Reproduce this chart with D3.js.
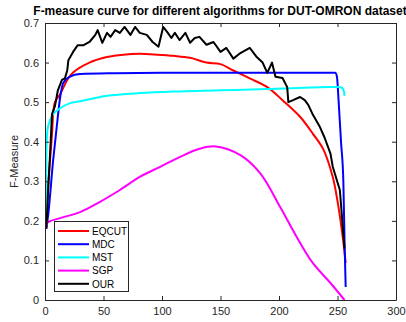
<!DOCTYPE html>
<html><head><meta charset="utf-8">
<script src="https://cdn.jsdelivr.net/npm/d3@7"></script>
<style>body{margin:0;background:#fff}text{font-family:"Liberation Sans",Arial,sans-serif}</style>
</head><body><svg id="c" width="406" height="322"></svg>
<script>
const title = "F-measure curve for different algorithms for DUT-OMRON dataset";
const yLabel = "F-Measure";
const xTicks = [0,50,100,150,200,250,300];
const yTicks = [0,0.1,0.2,0.3,0.4,0.5,0.6,0.7];
const seriesNames = ["EQCUT","MDC","MST","SGP","OUR"];
const seriesColors = ["#ff0000","#0000ff","#00ffff","#ff00ff","#000000"];

const eqcutX = [1,3,5,6,8.5,13,19,24,38,53,67,81,96,110,124,138,150,161,175,190,203,218,229,238,246,250,254,257];
const eqcutY = [0.18,0.3,0.38,0.42,0.5,0.52,0.556,0.575,0.6,0.614,0.62,0.622,0.62,0.617,0.612,0.60,0.596,0.58,0.56,0.538,0.505,0.463,0.42,0.38,0.31,0.25,0.17,0.093];

const mdcX = [1,2.5,7,10,13,15.5,21,30,60,100,150,200,248,249.5,251,253,255,256,257];
const mdcY = [0.18,0.21,0.354,0.437,0.513,0.548,0.564,0.571,0.573,0.574,0.574,0.574,0.574,0.565,0.5,0.4,0.3,0.15,0.033];

const mstX = [1,1.5,2.5,7,10,13,21,30,53,81,110,150,190,246,254,256];
const mstY = [0.2,0.4,0.437,0.47,0.478,0.485,0.497,0.502,0.516,0.523,0.527,0.53,0.533,0.538,0.536,0.516];

const sgpX = [1,2,13,30,47,64,81,98,115,132,146,167,184,201,215,229,244,256];
const sgpY = [0.18,0.195,0.207,0.222,0.248,0.278,0.311,0.336,0.361,0.382,0.388,0.366,0.32,0.235,0.16,0.093,0.043,0.0];

const ourX = [1,1.5,2.5,4,6,8.5,11,14.5,17,19,20,24,28,33,38,43,45,49,53,56,60,64,68,73,77,81,87,92,97,101,105,108,111,115,120,124,128,132,138,144,150,155,161,167,175,181,186,190,194,197,203,207,208,212,218,222,225,229,235,239,244,246,252,256];
const ourY = [0.18,0.2,0.27,0.35,0.47,0.49,0.53,0.556,0.56,0.58,0.606,0.627,0.644,0.644,0.652,0.67,0.682,0.65,0.675,0.665,0.682,0.675,0.69,0.67,0.69,0.675,0.67,0.652,0.64,0.69,0.675,0.662,0.675,0.657,0.675,0.65,0.662,0.665,0.645,0.652,0.627,0.637,0.61,0.624,0.637,0.614,0.6,0.574,0.6,0.564,0.561,0.538,0.5,0.505,0.513,0.505,0.493,0.468,0.437,0.41,0.37,0.336,0.278,0.13];

const series = [
  {x:eqcutX,y:eqcutY,curve:"cr"},{x:mdcX,y:mdcY,curve:"mono"},{x:mstX,y:mstY,curve:"cr"},{x:sgpX,y:sgpY,curve:"cr"},{x:ourX,y:ourY,curve:"lin"}
];
const curves={cr:d3.curveCatmullRom.alpha(0.5),mono:d3.curveMonotoneX,lin:d3.curveLinear};

const L=45,R=396,T=23,B=300;
const svg=d3.select("#c");
const x=d3.scaleLinear().domain([0,300]).range([L,R]);
const y=d3.scaleLinear().domain([0,0.7]).range([B,T]);
const axisColor="#262626";

const g=svg.append("g");
series.forEach((s,i)=>{
  const pts=s.x.map((v,j)=>[v,s.y[j]]);
  const line=d3.line().x(d=>x(d[0])).y(d=>y(d[1])).curve(curves[s.curve]);
  g.append("path").attr("d",line(pts)).attr("fill","none")
   .attr("stroke",seriesColors[i]).attr("stroke-width",2).attr("stroke-linejoin","round");
});

const fmtY=d=>d===0?"0":d3.format(".1f")(d);
const ax=svg.append("g").attr("transform",`translate(0,${B})`)
  .call(d3.axisBottom(x).tickValues(xTicks).tickSizeInner(-4).tickSizeOuter(0).tickPadding(7));
const ay=svg.append("g").attr("transform",`translate(${L},0)`)
  .call(d3.axisLeft(y).tickValues(yTicks).tickFormat(fmtY).tickSizeInner(-4).tickSizeOuter(0).tickPadding(6));
const at=svg.append("g").attr("transform",`translate(0,${T})`)
  .call(d3.axisTop(x).tickValues(xTicks).tickSizeInner(-4).tickSizeOuter(0).tickFormat(""));
const ar=svg.append("g").attr("transform",`translate(${R},0)`)
  .call(d3.axisRight(y).tickValues(yTicks).tickSizeInner(-4).tickSizeOuter(0).tickFormat(""));
[ax,ay,at,ar].forEach(a=>{
  a.selectAll("path,line").attr("stroke",axisColor);
  a.selectAll("text").attr("fill",axisColor).style("font-size","11px").style("font-family","Liberation Sans, Arial, sans-serif");
});

svg.append("text").attr("x",220).attr("y",15).attr("text-anchor","middle")
  .style("font-size","12px").style("font-weight","bold").attr("fill","#000").text(title);
svg.append("text").attr("transform",`translate(18,${(T+B)/2}) rotate(-90)`).attr("text-anchor","middle")
  .style("font-size","11px").attr("fill",axisColor).text(yLabel);

const lg=svg.append("g");
lg.append("rect").attr("x",54.5).attr("y",221.5).attr("width",74).attr("height",70)
  .attr("fill","#fff").attr("stroke",axisColor).attr("stroke-width",1);
seriesNames.forEach((n,i)=>{
  const yy=231+i*13.2;
  lg.append("line").attr("x1",58).attr("x2",89).attr("y1",yy).attr("y2",yy)
    .attr("stroke",seriesColors[i]).attr("stroke-width",2);
  lg.append("text").attr("x",92).attr("y",yy+3.8).style("font-size","10px").attr("fill","#000").text(n);
});
</script></body></html>
